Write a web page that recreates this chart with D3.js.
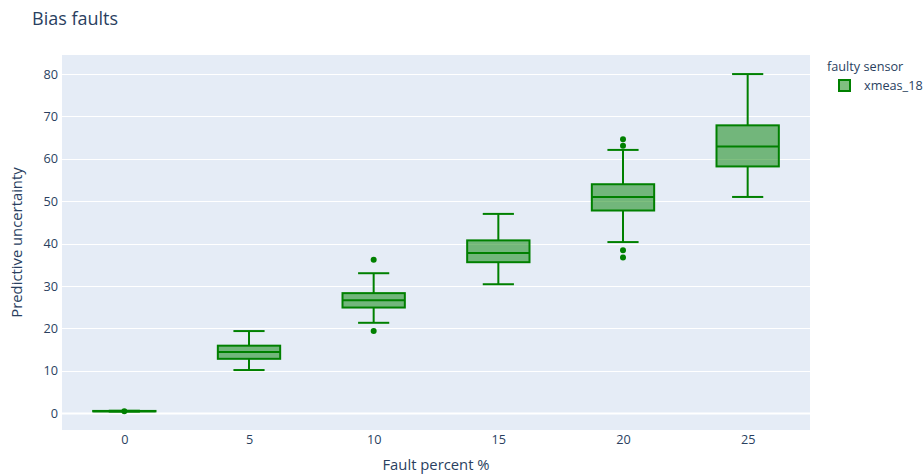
<!DOCTYPE html>
<html>
<head>
<meta charset="utf-8">
<script src="https://cdn.jsdelivr.net/npm/d3@7"></script>
<style>
  html, body { margin: 0; padding: 0; background: #fff; }
  svg { display: block; font-family: "Open Sans", verdana, arial, sans-serif; }
</style>
</head>
<body>
<svg id="chart" width="924" height="475"></svg>
<script>
// Fault percentages (x positions of each box)
const faultPercents = [0, 5, 10, 15, 20, 25];
// Box statistics for each fault percentage
const lowerFences = [0.35, 10.15, 21.3, 30.4, 40.35, 51.0];
const q1Values    = [0.4, 12.8, 24.9, 35.6, 47.8, 58.2];
const medians     = [0.45, 14.4, 26.6, 37.75, 51.0, 62.9];
const q3Values    = [0.5, 15.9, 28.3, 40.75, 54.0, 67.9];
const upperFences = [0.55, 19.35, 33.0, 47.0, 62.1, 80.0];
// Suspected outliers per fault percentage
const outliers = [[0.45], [], [36.2, 19.35], [], [64.6, 63.1, 38.4, 36.7], []];
const yTicks = [0, 10, 20, 30, 40, 50, 60, 70, 80];
const xTicks = [0, 5, 10, 15, 20, 25];
const seriesName = "xmeas_18";

const svg = d3.select("#chart");
const plot = { left: 62, right: 810, top: 55, bottom: 430 };
const textColor = "#2a3f5f";
const lineColor = "#008000";
const fillColor = "rgba(0,128,0,0.5)";
const fontStack = '"Open Sans", verdana, arial, sans-serif';

const x = d3.scaleLinear().domain([-2.5, 27.5]).range([plot.left, plot.right]);
const y = d3.scaleLinear().domain([-4.0, 84.5]).range([plot.bottom, plot.top]);

// Plot background
svg.append("rect")
  .attr("x", plot.left).attr("y", plot.top)
  .attr("width", plot.right - plot.left).attr("height", plot.bottom - plot.top)
  .attr("fill", "#E5ECF6");

// Horizontal grid
svg.append("g").selectAll("line").data(yTicks).join("line")
  .attr("x1", plot.left).attr("x2", plot.right)
  .attr("y1", d => Math.round(y(d)) + 0.5).attr("y2", d => Math.round(y(d)) + 0.5)
  .attr("stroke", "#fff").attr("stroke-width", d => d === 0 ? 2 : 1);

// Y axis tick labels
const yAxis = d3.axisLeft(y).tickValues(yTicks).tickSize(0).tickPadding(0);
const gy = svg.append("g").attr("transform", `translate(${plot.left - 4},0)`).call(yAxis);
gy.select(".domain").remove();
gy.selectAll("text").attr("fill", textColor).style("font-size", "12.7px")
  .style("font-family", fontStack);

// X axis tick labels
const xAxis = d3.axisBottom(x).tickValues(xTicks).tickSize(0).tickPadding(0);
const gx = svg.append("g").attr("transform", `translate(0,${plot.bottom + 5})`).call(xAxis);
gx.select(".domain").remove();
gx.selectAll("text").attr("fill", textColor).style("font-size", "12.7px")
  .style("font-family", fontStack);

// Boxes
const boxWidth = x(2.5) - x(0);
const capWidth = boxWidth / 2;
const boxes = svg.append("g");
faultPercents.forEach((fp, i) => {
  const cx = x(fp);
  const g = boxes.append("g");
  // whiskers
  g.append("line").attr("x1", cx).attr("x2", cx)
    .attr("y1", y(upperFences[i])).attr("y2", y(q3Values[i]))
    .attr("stroke", lineColor).attr("stroke-width", 2);
  g.append("line").attr("x1", cx).attr("x2", cx)
    .attr("y1", y(q1Values[i])).attr("y2", y(lowerFences[i]))
    .attr("stroke", lineColor).attr("stroke-width", 2);
  // caps
  [upperFences[i], lowerFences[i]].forEach(v => {
    g.append("line").attr("x1", cx - capWidth / 2).attr("x2", cx + capWidth / 2)
      .attr("y1", y(v)).attr("y2", y(v))
      .attr("stroke", lineColor).attr("stroke-width", 2);
  });
  // box
  g.append("rect")
    .attr("x", cx - boxWidth / 2).attr("width", boxWidth)
    .attr("y", y(q3Values[i])).attr("height", Math.max(0, y(q1Values[i]) - y(q3Values[i])))
    .attr("fill", fillColor).attr("stroke", lineColor).attr("stroke-width", 2);
  // median
  g.append("line").attr("x1", cx - boxWidth / 2).attr("x2", cx + boxWidth / 2)
    .attr("y1", y(medians[i])).attr("y2", y(medians[i]))
    .attr("stroke", lineColor).attr("stroke-width", 2);
  // outliers
  g.selectAll("circle").data(outliers[i]).join("circle")
    .attr("cx", cx).attr("cy", d => y(d)).attr("r", 3)
    .attr("fill", lineColor);
});

// Title
svg.append("text").attr("x", 32).attr("y", 25)
  .attr("fill", textColor).style("font-size", "18px").text("Bias faults");

// Axis titles
svg.append("text").attr("x", (plot.left + plot.right) / 2).attr("y", 470)
  .attr("text-anchor", "middle").attr("fill", textColor).style("font-size", "14.8px")
  .text("Fault percent %");
svg.append("text")
  .attr("transform", `translate(22,${(plot.top + plot.bottom) / 2}) rotate(-90)`)
  .attr("text-anchor", "middle").attr("fill", textColor).style("font-size", "14.8px")
  .text("Predictive uncertainty");

// Legend
const legend = svg.append("g").attr("transform", "translate(827,0)");
legend.append("text").attr("x", 0).attr("y", 71)
  .attr("fill", textColor).style("font-size", "12.7px").text("faulty sensor");
legend.append("rect").attr("x", 12).attr("y", 80).attr("width", 11).attr("height", 11)
  .attr("fill", fillColor).attr("stroke", lineColor).attr("stroke-width", 2);
legend.append("text").attr("x", 37).attr("y", 90)
  .attr("fill", textColor).style("font-size", "12.7px").text(seriesName);
</script>
</body>
</html>
